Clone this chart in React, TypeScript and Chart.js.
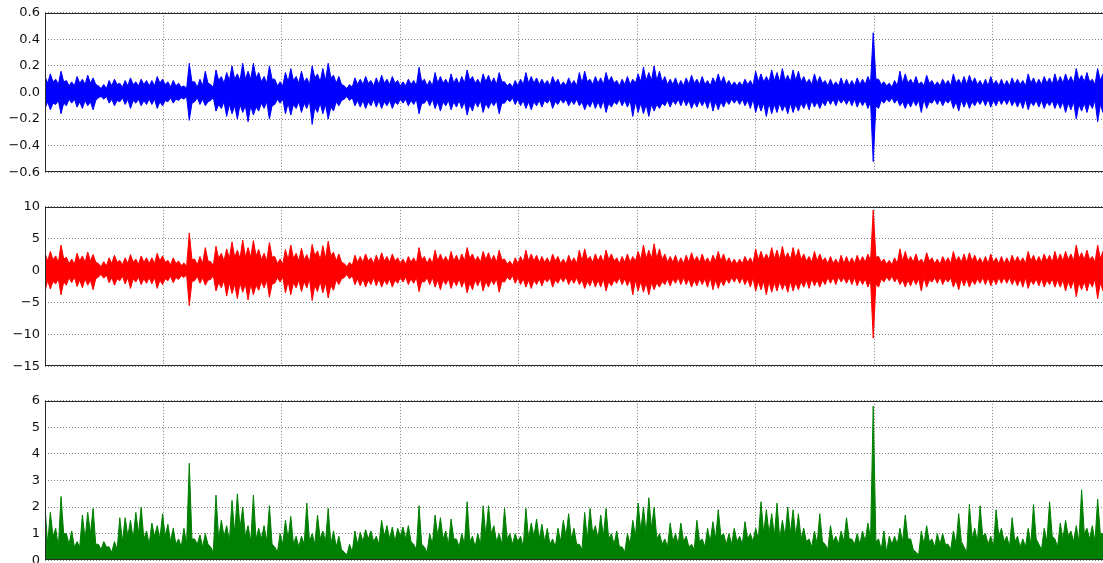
import React, { useEffect, useRef } from "react";
import { Chart, registerables } from "chart.js";
Chart.register(...registerables);

const X_MAX = 9;
const X_TICKS = [0, 1, 2, 3, 4, 5, 6, 7, 8, 9];
const BLUE_TICKS = [-0.6, -0.4, -0.2, 0, 0.2, 0.4, 0.6];
const RED_TICKS = [-15, -10, -5, 0, 5, 10];
const GREEN_TICKS = [0, 1, 2, 3, 4, 5, 6];

// Per-bin local maxima / minima of the dense blue signal (200 bins across the axis)
const blueUpper = [
  0.12, 0.14, 0.10, 0.16, 0.09, 0.08, 0.12, 0.10, 0.13, 0.11,
  0.05, 0.06, 0.09, 0.10, 0.07, 0.09, 0.11, 0.08, 0.10, 0.09,
  0.09, 0.12, 0.10, 0.08, 0.09, 0.07, 0.05, 0.22, 0.08, 0.10,
  0.16, 0.06, 0.17, 0.12, 0.15, 0.20, 0.14, 0.22, 0.16, 0.22,
  0.15, 0.12, 0.20, 0.10, 0.08, 0.15, 0.18, 0.12, 0.16, 0.11,
  0.20, 0.14, 0.18, 0.22, 0.13, 0.12, 0.05, 0.06, 0.11, 0.10,
  0.12, 0.09, 0.11, 0.13, 0.10, 0.12, 0.09, 0.08, 0.10, 0.09,
  0.19, 0.10, 0.09, 0.15, 0.12, 0.10, 0.14, 0.11, 0.12, 0.17,
  0.12, 0.10, 0.14, 0.13, 0.11, 0.15, 0.08, 0.07, 0.09, 0.10,
  0.15, 0.12, 0.11, 0.10, 0.09, 0.12, 0.10, 0.08, 0.11, 0.09,
  0.15, 0.16, 0.10, 0.12, 0.11, 0.15, 0.12, 0.09, 0.10, 0.12,
  0.10, 0.14, 0.19, 0.15, 0.20, 0.16, 0.12, 0.10, 0.11, 0.09,
  0.11, 0.13, 0.10, 0.12, 0.09, 0.11, 0.14, 0.12, 0.09, 0.08,
  0.08, 0.10, 0.09, 0.16, 0.14, 0.12, 0.17, 0.15, 0.18, 0.13,
  0.17, 0.16, 0.12, 0.10, 0.14, 0.12, 0.09, 0.10, 0.08, 0.11,
  0.10, 0.09, 0.11, 0.10, 0.12, 0.45, 0.10, 0.08, 0.07, 0.09,
  0.16, 0.14, 0.10, 0.12, 0.08, 0.13, 0.09, 0.08, 0.10, 0.09,
  0.14, 0.10, 0.12, 0.13, 0.11, 0.09, 0.10, 0.12, 0.09, 0.10,
  0.09, 0.11, 0.10, 0.09, 0.14, 0.11, 0.10, 0.12, 0.11, 0.14,
  0.12, 0.14, 0.12, 0.18, 0.13, 0.15, 0.10, 0.18, 0.14, 0.12,
];
const blueLower = [
  -0.12, -0.13, -0.09, -0.16, -0.10, -0.08, -0.11, -0.12, -0.10, -0.13,
  -0.04, -0.05, -0.08, -0.10, -0.07, -0.09, -0.12, -0.08, -0.10, -0.09,
  -0.09, -0.12, -0.10, -0.07, -0.08, -0.06, -0.05, -0.21, -0.07, -0.09,
  -0.10, -0.06, -0.14, -0.12, -0.18, -0.16, -0.20, -0.15, -0.22, -0.17,
  -0.14, -0.12, -0.20, -0.09, -0.08, -0.16, -0.17, -0.12, -0.15, -0.12,
  -0.24, -0.15, -0.16, -0.20, -0.14, -0.10, -0.05, -0.06, -0.10, -0.11,
  -0.12, -0.10, -0.11, -0.12, -0.10, -0.12, -0.09, -0.08, -0.10, -0.09,
  -0.16, -0.08, -0.10, -0.12, -0.14, -0.10, -0.13, -0.11, -0.12, -0.17,
  -0.14, -0.11, -0.15, -0.12, -0.10, -0.16, -0.08, -0.07, -0.09, -0.10,
  -0.12, -0.13, -0.10, -0.11, -0.08, -0.12, -0.09, -0.08, -0.10, -0.09,
  -0.10, -0.13, -0.11, -0.12, -0.12, -0.15, -0.11, -0.09, -0.10, -0.11,
  -0.18, -0.15, -0.16, -0.18, -0.14, -0.12, -0.10, -0.11, -0.09, -0.10,
  -0.10, -0.12, -0.11, -0.10, -0.12, -0.14, -0.13, -0.11, -0.09, -0.08,
  -0.09, -0.10, -0.12, -0.15, -0.14, -0.18, -0.16, -0.15, -0.14, -0.16,
  -0.15, -0.14, -0.12, -0.13, -0.11, -0.12, -0.10, -0.09, -0.10, -0.08,
  -0.09, -0.10, -0.11, -0.10, -0.12, -0.52, -0.12, -0.08, -0.07, -0.08,
  -0.10, -0.12, -0.11, -0.10, -0.15, -0.12, -0.08, -0.09, -0.10, -0.08,
  -0.12, -0.14, -0.11, -0.12, -0.10, -0.09, -0.10, -0.11, -0.10, -0.09,
  -0.09, -0.10, -0.11, -0.12, -0.13, -0.10, -0.11, -0.12, -0.10, -0.12,
  -0.12, -0.15, -0.13, -0.20, -0.14, -0.15, -0.12, -0.22, -0.15, -0.12,
];
// Half-width of the solid core of the blue band, between the spikes
const blueCore = [
  0.07, 0.08, 0.06, 0.08, 0.05, 0.05, 0.07, 0.06, 0.07, 0.06,
  0.03, 0.03, 0.05, 0.06, 0.04, 0.05, 0.06, 0.05, 0.06, 0.05,
  0.05, 0.07, 0.06, 0.04, 0.05, 0.04, 0.03, 0.08, 0.04, 0.05,
  0.07, 0.04, 0.09, 0.07, 0.09, 0.10, 0.09, 0.10, 0.10, 0.11,
  0.08, 0.07, 0.10, 0.05, 0.05, 0.08, 0.09, 0.07, 0.08, 0.06,
  0.11, 0.08, 0.09, 0.11, 0.07, 0.06, 0.03, 0.04, 0.06, 0.06,
  0.07, 0.05, 0.06, 0.07, 0.06, 0.07, 0.05, 0.05, 0.06, 0.05,
  0.08, 0.05, 0.05, 0.07, 0.07, 0.06, 0.07, 0.06, 0.07, 0.09,
  0.07, 0.06, 0.08, 0.07, 0.06, 0.08, 0.05, 0.04, 0.05, 0.06,
  0.07, 0.07, 0.06, 0.06, 0.05, 0.07, 0.05, 0.05, 0.06, 0.05,
  0.07, 0.08, 0.06, 0.07, 0.06, 0.08, 0.07, 0.05, 0.06, 0.06,
  0.07, 0.08, 0.09, 0.09, 0.09, 0.08, 0.06, 0.06, 0.05, 0.05,
  0.06, 0.07, 0.06, 0.06, 0.05, 0.07, 0.07, 0.06, 0.05, 0.05,
  0.05, 0.06, 0.05, 0.08, 0.08, 0.08, 0.09, 0.08, 0.09, 0.08,
  0.09, 0.08, 0.07, 0.06, 0.07, 0.07, 0.05, 0.05, 0.05, 0.05,
  0.05, 0.05, 0.06, 0.06, 0.07, 0.10, 0.06, 0.05, 0.04, 0.05,
  0.07, 0.07, 0.06, 0.06, 0.05, 0.07, 0.05, 0.05, 0.06, 0.05,
  0.07, 0.06, 0.06, 0.07, 0.06, 0.05, 0.05, 0.06, 0.05, 0.05,
  0.05, 0.06, 0.06, 0.05, 0.07, 0.06, 0.06, 0.07, 0.06, 0.07,
  0.07, 0.08, 0.07, 0.09, 0.08, 0.08, 0.06, 0.09, 0.08, 0.07,
];

const redUpper = [
  2.7, 3.0, 2.3, 4.0, 2.1, 1.8, 2.7, 2.3, 2.9, 2.5,
  1.1, 1.4, 2.0, 2.4, 1.6, 2.0, 2.5, 1.8, 2.3, 2.0,
  2.0, 2.7, 2.3, 1.6, 2.0, 1.5, 1.2, 5.9, 1.8, 2.2,
  3.6, 1.4, 3.8, 2.7, 3.4, 4.5, 3.2, 4.8, 3.6, 4.7,
  3.3, 2.7, 4.4, 2.2, 1.8, 3.3, 4.0, 2.7, 3.5, 2.5,
  4.1, 3.1, 3.9, 4.6, 2.9, 2.6, 1.1, 1.3, 2.4, 2.2,
  2.6, 2.0, 2.4, 2.8, 2.2, 2.6, 2.0, 1.8, 2.2, 2.0,
  3.6, 2.2, 2.0, 3.2, 2.6, 2.2, 3.0, 2.4, 2.6, 3.6,
  2.6, 2.2, 3.0, 2.8, 2.4, 3.2, 1.8, 1.5, 2.0, 2.2,
  3.2, 2.6, 2.4, 2.2, 2.0, 2.6, 2.2, 1.8, 2.4, 2.0,
  3.2, 3.4, 2.2, 2.6, 2.4, 3.2, 2.6, 2.0, 2.2, 2.6,
  2.2, 3.0, 4.0, 3.2, 4.2, 3.4, 2.6, 2.2, 2.4, 2.0,
  2.4, 2.8, 2.2, 2.6, 2.0, 2.4, 3.0, 2.6, 2.0, 1.8,
  1.8, 2.2, 2.0, 3.4, 3.0, 2.6, 3.6, 3.2, 3.8, 2.8,
  3.6, 3.4, 2.6, 2.2, 3.0, 2.6, 2.0, 2.2, 1.8, 2.4,
  2.2, 2.0, 2.4, 2.2, 2.6, 9.5, 2.2, 1.8, 1.6, 2.0,
  3.4, 3.0, 2.2, 2.6, 1.8, 2.8, 2.0, 1.8, 2.2, 2.0,
  3.0, 2.2, 2.6, 2.8, 2.4, 2.0, 2.2, 2.6, 2.0, 2.2,
  2.0, 2.4, 2.2, 2.0, 3.0, 2.4, 2.2, 2.6, 2.4, 3.0,
  2.6, 3.0, 2.6, 4.0, 2.8, 3.2, 2.2, 4.0, 3.0, 2.6,
];
const redLower = [
  -3.3, -2.9, -2.1, -3.8, -2.3, -1.9, -2.5, -2.7, -2.3, -3.0,
  -1.0, -1.2, -1.9, -2.3, -1.6, -2.1, -2.8, -1.8, -2.2, -2.0,
  -2.1, -2.8, -2.2, -1.6, -1.9, -1.4, -1.1, -5.5, -1.6, -2.0,
  -2.3, -1.4, -3.2, -2.7, -4.0, -3.6, -4.4, -3.4, -4.6, -3.8,
  -3.1, -2.7, -4.2, -2.0, -1.8, -3.5, -3.8, -2.7, -3.3, -2.7,
  -4.7, -3.3, -3.5, -4.3, -3.1, -2.2, -1.1, -1.3, -2.2, -2.4,
  -2.6, -2.2, -2.4, -2.6, -2.2, -2.6, -2.0, -1.8, -2.2, -2.0,
  -3.3, -1.8, -2.2, -2.6, -3.0, -2.2, -2.8, -2.4, -2.6, -3.5,
  -3.0, -2.4, -3.2, -2.6, -2.2, -3.4, -1.8, -1.5, -2.0, -2.2,
  -2.6, -2.8, -2.2, -2.4, -1.8, -2.6, -2.0, -1.8, -2.2, -2.0,
  -2.2, -2.8, -2.4, -2.6, -2.6, -3.2, -2.4, -2.0, -2.2, -2.4,
  -3.8, -3.2, -3.4, -3.8, -3.0, -2.6, -2.2, -2.4, -2.0, -2.2,
  -2.2, -2.6, -2.4, -2.2, -2.6, -3.0, -2.8, -2.4, -2.0, -1.8,
  -2.0, -2.2, -2.6, -3.2, -3.0, -3.8, -3.4, -3.2, -3.0, -3.4,
  -3.2, -3.0, -2.6, -2.8, -2.4, -2.6, -2.2, -2.0, -2.2, -1.8,
  -2.0, -2.2, -2.4, -2.2, -2.6, -10.6, -2.6, -1.8, -1.6, -1.8,
  -2.2, -2.6, -2.4, -2.2, -3.2, -2.6, -1.8, -2.0, -2.2, -1.8,
  -2.6, -3.0, -2.4, -2.6, -2.2, -2.0, -2.2, -2.4, -2.2, -2.0,
  -2.0, -2.2, -2.4, -2.6, -2.8, -2.2, -2.4, -2.6, -2.2, -2.6,
  -2.6, -3.2, -2.8, -4.1, -3.0, -3.2, -2.6, -4.4, -3.2, -2.6,
];
const redCore = [
  1.5, 1.7, 1.3, 1.8, 1.1, 1.0, 1.5, 1.3, 1.5, 1.3,
  0.6, 0.7, 1.1, 1.3, 0.9, 1.1, 1.3, 1.0, 1.3, 1.1,
  1.1, 1.5, 1.3, 0.9, 1.1, 0.8, 0.6, 1.7, 0.9, 1.1,
  1.5, 0.8, 1.9, 1.5, 1.9, 2.1, 1.9, 2.1, 2.1, 2.3,
  1.7, 1.5, 2.1, 1.1, 1.0, 1.7, 1.9, 1.5, 1.7, 1.3,
  2.3, 1.7, 1.9, 2.3, 1.5, 1.3, 0.6, 0.8, 1.3, 1.3,
  1.5, 1.1, 1.3, 1.5, 1.3, 1.5, 1.1, 1.0, 1.3, 1.1,
  1.7, 1.1, 1.1, 1.5, 1.5, 1.3, 1.5, 1.3, 1.5, 1.9,
  1.5, 1.3, 1.7, 1.5, 1.3, 1.7, 1.0, 0.8, 1.1, 1.3,
  1.5, 1.5, 1.3, 1.3, 1.1, 1.5, 1.1, 1.0, 1.3, 1.1,
  1.5, 1.7, 1.3, 1.5, 1.3, 1.7, 1.5, 1.1, 1.3, 1.3,
  1.5, 1.7, 1.9, 1.9, 1.9, 1.7, 1.3, 1.3, 1.1, 1.1,
  1.3, 1.5, 1.3, 1.3, 1.1, 1.5, 1.5, 1.3, 1.1, 1.0,
  1.1, 1.3, 1.1, 1.7, 1.7, 1.7, 1.9, 1.7, 1.9, 1.7,
  1.9, 1.7, 1.5, 1.3, 1.5, 1.5, 1.1, 1.1, 1.0, 1.1,
  1.1, 1.1, 1.3, 1.3, 1.5, 2.1, 1.3, 1.0, 0.9, 1.1,
  1.5, 1.5, 1.3, 1.3, 1.1, 1.5, 1.1, 1.0, 1.3, 1.1,
  1.5, 1.3, 1.3, 1.5, 1.3, 1.1, 1.1, 1.3, 1.1, 1.1,
  1.1, 1.3, 1.3, 1.1, 1.5, 1.3, 1.3, 1.5, 1.3, 1.5,
  1.5, 1.7, 1.5, 1.9, 1.7, 1.7, 1.3, 1.9, 1.7, 1.5,
];

const greenHigh = [
  2.0, 1.8, 1.2, 2.4, 1.0, 1.1, 0.7, 1.7, 1.8, 1.95,
  0.6, 0.7, 0.5, 0.7, 1.6, 1.6, 1.5, 1.8, 2.0, 1.1,
  1.4, 1.3, 1.75, 1.35, 1.2, 0.8, 1.2, 3.65, 0.8, 0.95,
  1.0, 0.5, 2.45, 1.5, 1.3, 2.25, 2.5, 2.0, 1.3, 2.45,
  1.2, 1.3, 2.05, 0.5, 1.0, 1.5, 1.65, 0.9, 0.9, 2.15,
  1.0, 1.7, 1.1, 1.95, 1.1, 0.9, 0.3, 0.6, 1.1, 1.05,
  1.15, 1.1, 0.9, 1.5, 1.3, 1.25, 1.2, 1.25, 1.3, 0.6,
  2.05, 0.5, 1.0, 1.7, 1.6, 1.1, 1.55, 0.8, 1.0, 2.2,
  0.9, 1.0, 2.05, 2.05, 1.3, 1.0, 1.95, 1.0, 1.0, 0.9,
  1.95, 1.4, 1.55, 1.35, 1.2, 0.8, 1.2, 1.5, 1.75, 1.2,
  0.6, 1.8, 1.95, 1.3, 1.7, 1.95, 1.0, 1.1, 0.5, 1.0,
  1.5, 2.15, 2.0, 2.35, 2.0, 1.0, 0.8, 1.4, 1.0, 1.4,
  0.9, 0.6, 1.5, 0.8, 1.2, 1.45, 1.9, 1.0, 1.0, 1.2,
  0.9, 1.45, 1.0, 1.2, 2.2, 1.9, 1.75, 2.15, 1.5, 2.0,
  1.9, 1.75, 1.2, 0.8, 1.1, 1.75, 0.6, 1.3, 0.9, 1.1,
  1.6, 0.8, 1.0, 1.1, 1.4, 5.8, 0.8, 1.1, 0.9, 0.9,
  1.2, 1.7, 0.8, 0.3, 1.1, 1.3, 0.8, 1.0, 1.0, 0.6,
  1.1, 1.75, 0.5, 2.1, 1.2, 2.05, 1.0, 0.9, 1.9, 1.2,
  0.9, 1.6, 0.9, 0.8, 1.2, 2.1, 0.6, 1.2, 2.2, 0.8,
  1.4, 1.5, 1.1, 1.3, 2.65, 1.2, 1.3, 2.3, 1.0, 1.2,
];
const greenLow = [
  0.6, 0.9, 0.5, 1.0, 0.6, 0.5, 0.5, 0.8, 1.0, 0.6,
  0.4, 0.5, 0.3, 0.4, 0.7, 0.9, 0.8, 1.0, 0.8, 0.6,
  0.9, 0.8, 0.9, 0.7, 0.6, 0.5, 0.6, 0.8, 0.6, 0.5,
  0.6, 0.3, 0.8, 0.9, 0.7, 1.0, 1.2, 0.9, 0.7, 0.8,
  0.8, 0.7, 0.6, 0.3, 0.6, 0.8, 0.6, 0.5, 0.6, 0.7,
  0.6, 0.8, 0.7, 0.6, 0.5, 0.4, 0.2, 0.3, 0.6, 0.7,
  0.8, 0.7, 0.6, 0.9, 0.8, 0.7, 0.9, 0.8, 0.7, 0.4,
  0.6, 0.3, 0.6, 0.9, 0.8, 0.6, 0.8, 0.5, 0.6, 0.7,
  0.5, 0.6, 0.9, 1.0, 0.7, 0.6, 0.8, 0.6, 0.7, 0.5,
  0.8, 0.9, 0.8, 0.7, 0.6, 0.5, 0.7, 0.9, 0.8, 0.6,
  0.4, 0.8, 1.0, 0.8, 0.9, 0.8, 0.6, 0.5, 0.3, 0.6,
  0.9, 1.1, 1.0, 1.2, 0.8, 0.6, 0.5, 0.7, 0.6, 0.7,
  0.5, 0.4, 0.7, 0.5, 0.7, 0.8, 0.9, 0.6, 0.6, 0.7,
  0.6, 0.8, 0.7, 0.8, 1.0, 1.0, 0.9, 0.8, 0.9, 1.0,
  0.9, 0.8, 0.7, 0.5, 0.6, 0.7, 0.4, 0.7, 0.6, 0.7,
  0.8, 0.6, 0.6, 0.7, 0.8, 0.7, 0.4, 0.3, 0.6, 0.6,
  0.7, 0.8, 0.4, 0.2, 0.6, 0.7, 0.5, 0.6, 0.6, 0.4,
  0.6, 0.7, 0.3, 0.8, 0.7, 0.9, 0.6, 0.5, 0.9, 0.7,
  0.5, 0.7, 0.5, 0.5, 0.6, 0.8, 0.4, 0.7, 0.9, 0.5,
  0.8, 0.9, 0.7, 0.7, 1.0, 0.8, 0.7, 1.0, 0.6, 0.7,
];

type Pt = { x: number; y: number };

// Interleave per-bin extremes with per-bin inner values into one spiky outline.
function interleave(a: number[], b: number[], signB = 1): Pt[] {
  const n = a.length * 2;
  const pts: Pt[] = [];
  for (let i = 0; i < a.length; i++) {
    pts.push({ x: ((2 * i) * X_MAX) / (n - 1), y: a[i] });
    pts.push({ x: ((2 * i + 1) * X_MAX) / (n - 1), y: signB * b[i] });
  }
  return pts;
}

const CANVAS_W = 1130;
const CANVAS_H = 185;

const framePlugin = {
  id: "frame",
  afterDraw(chart: any) {
    const { ctx, chartArea: a } = chart;
    ctx.save();
    ctx.strokeStyle = "#2a2a2a";
    ctx.lineWidth = 1;
    const l = Math.round(a.left) + 0.5;
    const t = Math.round(a.top) + 0.5;
    const r = Math.round(a.right) - 0.5;
    const b = Math.round(a.bottom) - 0.5;
    ctx.strokeRect(l, t, r - l, b - t);
    ctx.restore();
  },
};

function fmt(v: number, d: number) {
  const s = Math.abs(v) < 1e-9 ? (0).toFixed(d) : v.toFixed(d);
  return s.replace("-", "\u2212");
}

type PanelProps = {
  top: number;
  datasets: any[];
  ticks: number[];
  decimals: number;
};

function Panel({ top, datasets, ticks, decimals }: PanelProps) {
  const ref = useRef<HTMLCanvasElement | null>(null);
  useEffect(() => {
    if (!ref.current) return;
    const gridColor = "rgba(0,0,0,0.5)";
    const chart = new Chart(ref.current, {
      type: "line",
      data: { datasets },
      options: {
        animation: false,
        responsive: false,
        devicePixelRatio: 1,
        events: [],
        layout: { padding: { left: 0, right: CANVAS_W - 1111, top: 11, bottom: 12 } },
        plugins: { legend: { display: false }, tooltip: { enabled: false }, title: { display: false } },
        scales: {
          x: {
            type: "linear",
            min: 0,
            max: X_MAX,
            afterBuildTicks: (s: any) => {
              s.ticks = X_TICKS.map((v) => ({ value: v }));
            },
            afterFit: (s: any) => {
              s.height = 0;
            },
            ticks: { display: false },
            grid: { color: gridColor, lineWidth: 1, drawTicks: false, borderDash: [1, 2] } as any,
            border: { display: false, dash: [1, 2] },
          },
          y: {
            type: "linear",
            min: ticks[0],
            max: ticks[ticks.length - 1],
            afterBuildTicks: (s: any) => {
              s.ticks = ticks.map((v) => ({ value: v }));
            },
            afterFit: (s: any) => {
              s.width = 45;
            },
            ticks: {
              padding: 5,
              color: "#111",
              font: { family: "'DejaVu Sans', sans-serif", size: 13 },
              callback: (v: any) => fmt(Number(v), decimals),
            },
            grid: { color: gridColor, lineWidth: 1, drawTicks: false, borderDash: [1, 2] } as any,
            border: { display: false, dash: [1, 2] },
          },
        },
      },
      plugins: [framePlugin],
    });
    return () => chart.destroy();
  }, []);
  return (
    <canvas
      ref={ref}
      width={CANVAS_W}
      height={CANVAS_H}
      style={{ position: "absolute", left: 0, top, width: CANVAS_W, height: CANVAS_H }}
    />
  );
}

function band(upper: number[], lower: number[], core: number[], color: string) {
  return [
    {
      data: interleave(upper, core, 1),
      borderColor: color,
      backgroundColor: color,
      borderWidth: 1,
      pointRadius: 0,
      tension: 0,
      fill: "+1",
    },
    {
      data: interleave(lower, core, -1),
      borderColor: color,
      backgroundColor: color,
      borderWidth: 1,
      pointRadius: 0,
      tension: 0,
      fill: false,
    },
  ];
}

export default function App() {
  const blueSets = band(blueUpper, blueLower, blueCore, "#0000ff");
  const redSets = band(redUpper, redLower, redCore, "#ff0000");
  const greenSets = [
    {
      data: interleave(greenHigh, greenLow, 1),
      borderColor: "#008000",
      backgroundColor: "#008000",
      borderWidth: 1,
      pointRadius: 0,
      tension: 0,
      fill: "origin",
    },
  ];
  return (
    <div
      style={{
        position: "fixed",
        left: 0,
        top: 0,
        width: 1103,
        height: 563,
        overflow: "hidden",
        background: "#fff",
      }}
    >
      <Panel top={0} datasets={blueSets} ticks={BLUE_TICKS} decimals={1} />
      <Panel top={194} datasets={redSets} ticks={RED_TICKS} decimals={0} />
      <Panel top={388} datasets={greenSets} ticks={GREEN_TICKS} decimals={0} />
    </div>
  );
}
